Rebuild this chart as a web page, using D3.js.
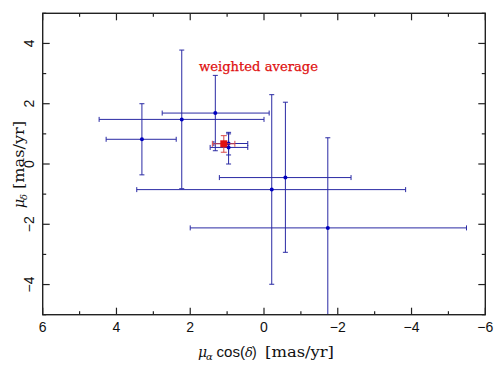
<!DOCTYPE html>
<html><head><meta charset="utf-8">
<script src="https://cdn.jsdelivr.net/npm/d3@7"></script>
<style>body{margin:0;background:#fff}svg{display:block}</style>
</head><body>
<script>
// Proper motion measurements (mas/yr)
const pmRA    = [3.31, 2.23, 1.32, 0.96, 0.96, -0.21, -0.58, -1.73];
const pmDec   = [0.82, 1.48, 1.69, 0.68, 0.55, -0.85, -0.45, -2.12];
const raHi    = [4.28, 4.47, 2.76, 1.36, 1.46, 3.45, 1.21, 2.00];
const raLo    = [2.38, 0.00, -0.14, 0.44, 0.44, -3.84, -2.36, -5.49];
const decHi   = [2.00, 3.78, 2.94, 1.00, 1.05, 2.30, 2.05, 0.87];
const decLo   = [-0.36, -0.82, 0.44, 0.30, 0.00, -3.99, -2.93, -5.6];
// weighted average
const avgRA = [1.09], avgDec = [0.67];
const avgRAHi = [1.40], avgRALo = [0.79];
const avgDecHi = [0.94], avgDecLo = [0.39];
const xTicks = [6, 4, 2, 0, -2, -4, -6];
const yTicks = [4, 2, 0, -2, -4];
const avgLabel = "weighted average";

const W = 500, H = 368;
const L = 42.7, R = 485.3, T = 13.3, B = 314.7;
const svg = d3.select("body").append("svg").attr("width", W).attr("height", H);
const x = d3.scaleLinear().domain([6, -6]).range([L, R]);
const y = d3.scaleLinear().domain([-5, 5]).range([B, T]);

svg.append("clipPath").attr("id", "clip").append("rect")
  .attr("x", L).attr("y", T).attr("width", R - L).attr("height", B - T);

const blue = "#2a2aa4", red = "#e01010";
const g = svg.append("g").attr("clip-path", "url(#clip)");
const cap = 2.5;
const pts = pmRA.map((v, i) => ({x: v, y: pmDec[i], xh: raHi[i], xl: raLo[i], yh: decHi[i], yl: decLo[i]}));

function drawErr(sel, data, color, c) {
  data.forEach(d => {
    const gg = sel.append("g").attr("stroke", color).attr("stroke-width", 1).attr("fill", "none");
    gg.append("line").attr("x1", x(d.xh)).attr("x2", x(d.xl)).attr("y1", y(d.y)).attr("y2", y(d.y));
    gg.append("line").attr("x1", x(d.x)).attr("x2", x(d.x)).attr("y1", y(d.yh)).attr("y2", y(d.yl));
    [d.xh, d.xl].forEach(v => gg.append("line").attr("x1", x(v)).attr("x2", x(v)).attr("y1", y(d.y) - c).attr("y2", y(d.y) + c));
    [d.yh, d.yl].forEach(v => gg.append("line").attr("y1", y(v)).attr("y2", y(v)).attr("x1", x(d.x) - c).attr("x2", x(d.x) + c));
  });
}
drawErr(g, pts, blue, cap);
g.selectAll("circle.pt").data(pts).join("circle").attr("class", "pt")
  .attr("cx", d => x(d.x)).attr("cy", d => y(d.y)).attr("r", 2).attr("fill", "#0000c0");

const avg = avgRA.map((v, i) => ({x: v, y: avgDec[i], xh: avgRAHi[i], xl: avgRALo[i], yh: avgDecHi[i], yl: avgDecLo[i]}));
drawErr(g, avg, "#d84848", 3);
g.selectAll("rect.avg").data(avg).join("rect").attr("class", "avg")
  .attr("x", d => x(d.x) - 3.5).attr("y", d => y(d.y) - 3.5).attr("width", 7).attr("height", 7).attr("fill", red);

// frame
svg.append("rect").attr("x", L).attr("y", T).attr("width", R - L).attr("height", B - T)
  .attr("fill", "none").attr("stroke", "#222").attr("stroke-width", 1.4);

// ticks (inward on all sides)
const tk = svg.append("g").attr("stroke", "#222").attr("stroke-width", 1.2);
d3.range(-6, 7, 1).forEach(v => {
  const len = v % 2 === 0 ? 7 : 3.5;
  tk.append("line").attr("x1", x(v)).attr("x2", x(v)).attr("y1", B).attr("y2", B - len);
  tk.append("line").attr("x1", x(v)).attr("x2", x(v)).attr("y1", T).attr("y2", T + len);
});
d3.range(-5, 6, 1).forEach(v => {
  const len = v % 2 === 0 ? 7 : 3.5;
  tk.append("line").attr("y1", y(v)).attr("y2", y(v)).attr("x1", L).attr("x2", L + len);
  tk.append("line").attr("y1", y(v)).attr("y2", y(v)).attr("x1", R).attr("x2", R - len);
});

const fmt = v => (v < 0 ? "\u2212" + Math.abs(v) : String(v));
svg.append("g").selectAll("text").data(xTicks).join("text")
  .attr("x", d => x(d)).attr("y", 331.5).attr("text-anchor", "middle")
  .attr("font-family", "Liberation Sans, Arial, sans-serif").attr("font-size", 14).attr("fill", "#111")
  .text(fmt);
svg.append("g").selectAll("text").data(yTicks).join("text")
  .attr("transform", d => `translate(34,${y(d)}) rotate(-90)`).attr("text-anchor", "middle")
  .attr("font-family", "Liberation Sans, Arial, sans-serif").attr("font-size", 14).attr("fill", "#111")
  .text(fmt);

// x label (pieces placed along the baseline)
const xlab = svg.append("g").attr("fill", "#111");
function piece(sel, px, py, txt, fam, size, style, len) {
  const t = sel.append("text").attr("x", px).attr("y", py).attr("font-family", fam)
    .attr("font-size", size).attr("font-style", style || "normal").text(txt);
  if (len) t.attr("textLength", len).attr("lengthAdjust", "spacingAndGlyphs");
  return t;
}
piece(xlab, 198, 357, "\u03bc", "DejaVu Serif", 14, "italic");
piece(xlab, 206, 360, "\u03b1", "DejaVu Serif", 10, "italic");
piece(xlab, 216.5, 357, "cos(", "Liberation Sans", 14, null, 28.5);
piece(xlab, 245, 357, "\u03b4", "DejaVu Serif", 13, "italic");
piece(xlab, 252, 357, ")", "Liberation Sans", 14);
piece(xlab, 265, 357, "[mas/yr]", "DejaVu Serif", 14, null, 69);

// y label (rotated)
const ylab = svg.append("g").attr("fill", "#111").attr("transform", "translate(24,0) rotate(-90)");
piece(ylab, -208, 0, "\u03bc", "DejaVu Serif", 14, "italic");
piece(ylab, -200, 3, "\u03b4", "DejaVu Serif", 10, "italic");
piece(ylab, -189, 0, "[mas/yr]", "DejaVu Serif", 14, null, 68);

// annotation
svg.append("text").attr("x", 199).attr("y", 70.5)
  .attr("font-family", "DejaVu Serif").attr("font-size", 13).attr("fill", red)
  .attr("stroke", red).attr("stroke-width", 0.25)
  .attr("textLength", 119).attr("lengthAdjust", "spacingAndGlyphs")
  .text(avgLabel);
</script>
</body></html>
